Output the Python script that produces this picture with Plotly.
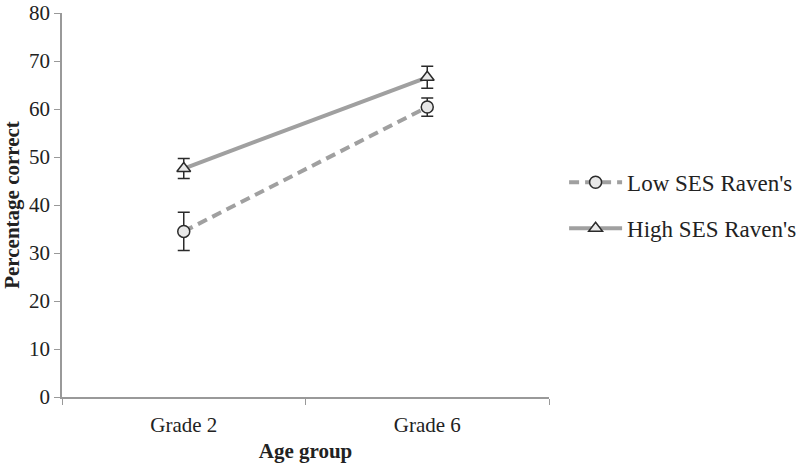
import plotly.graph_objects as go

categories = ["Grade 2", "Grade 6"]
low_ses = [34.5, 60.4]
low_err = [4.0, 1.9]
high_ses = [47.6, 66.6]
high_err = [2.1, 2.3]
y_ticks = [0, 10, 20, 30, 40, 50, 60, 70, 80]

FONT = "Liberation Serif"
LINE = "#a0a0a0"
DARK = "#2b2b2b"

fig = go.Figure()
fig.add_trace(go.Scatter(
    x=categories, y=low_ses, name="Low SES Raven's", mode="lines+markers",
    legendgroup="a",
    line=dict(color=LINE, width=4, dash="10px,6px"),
    marker=dict(symbol="circle", size=12, color="#e8e8e8", line=dict(color=DARK, width=1.5)),
    error_y=dict(type="data", array=low_err, visible=True, color=DARK, thickness=1.5, width=6),
))
fig.add_trace(go.Scatter(
    x=categories, y=high_ses, name="High SES Raven's", mode="lines+markers",
    legendgroup="b",
    line=dict(color=LINE, width=4),
    marker=dict(symbol="triangle-up", size=12, color="#e8e8e8", line=dict(color=DARK, width=1.5)),
    error_y=dict(type="data", array=high_err, visible=True, color=DARK, thickness=1.5, width=6),
))

fig.update_layout(
    width=800, height=463,
    margin=dict(l=62, r=251, t=13, b=66, autoexpand=False),
    paper_bgcolor="white", plot_bgcolor="white",
    font=dict(family=FONT, color="#222", size=20),
    showlegend=True,
    legend=dict(x=1.031, y=0.615, xanchor="left", yanchor="top",
                font=dict(family=FONT, size=23, color="#222"),
                itemwidth=53,
                tracegroupgap=13, bgcolor="rgba(0,0,0,0)"),
    xaxis=dict(
        type="category", range=[-0.5, 1.5], automargin=False,
        showline=True, linecolor="#999", linewidth=1.5,
        ticks="outside", tickson="boundaries", ticklen=6, tickcolor="#999",
        showgrid=False, zeroline=False,
        ticklabelstandoff=8,
        tickfont=dict(family=FONT, size=21, color="#222"),
        title=dict(text="<b>Age group</b>", font=dict(family=FONT, size=21, color="#222"), standoff=10),
    ),
    yaxis=dict(
        range=[0, 80], tickvals=y_ticks, automargin=False,
        showline=True, linecolor="#999", linewidth=1.5,
        ticks="outside", ticklen=6, tickcolor="#999",
        showgrid=False, zeroline=False,
        ticklabeloverflow="allow",
        tickfont=dict(family=FONT, size=21, color="#222"),
        title=dict(text="<b>Percentage correct</b>", font=dict(family=FONT, size=21, color="#222"), standoff=8),
    ),
)

fig.write_html("out.html")
